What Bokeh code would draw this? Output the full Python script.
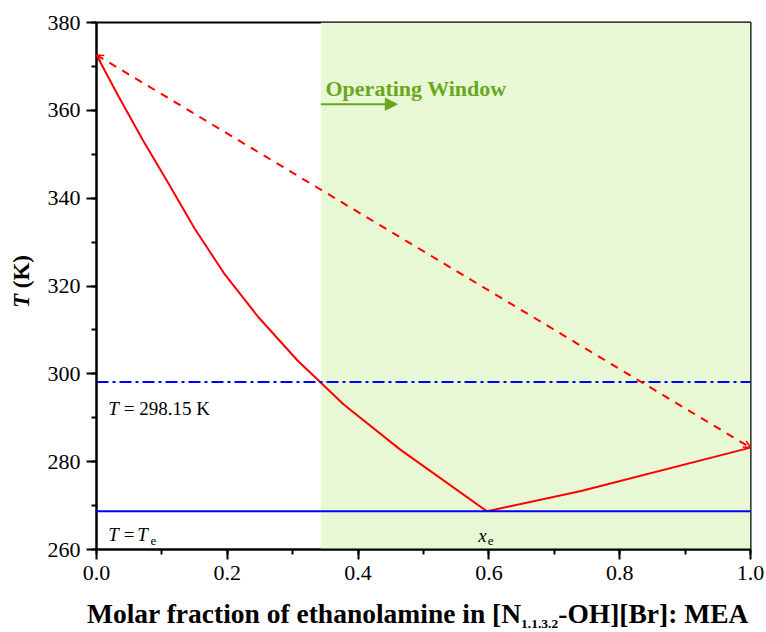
from bokeh.plotting import figure
from bokeh.layouts import row, column
from bokeh.models import (Range1d, SingleIntervalTicker, Label, Arrow, OpenHead, Div,
                          NormalHead, BoxAnnotation, Span, CustomJSTickFormatter)
from bokeh.embed import file_html
from bokeh.resources import INLINE

# ---- data ----
x_liq_left = [0.0, 0.034, 0.071, 0.111, 0.150, 0.195, 0.247, 0.307, 0.378, 0.464, 0.597]
T_liq_left = [372.6, 363.1, 353.2, 343.1, 333.1, 322.9, 313.0, 303.1, 293.0, 282.8, 268.7]
x_liq_right = [0.597, 0.741, 1.0]
T_liq_right = [268.7, 273.3, 283.2]
ideal_x = [0.0, 1.0]
ideal_T = [372.6, 283.2]
T_room = 298.15
T_eut = 268.7
x_window = 0.343

SERIF = "Liberation Serif"
GREEN = "#6aa71d"

p = figure(width=726, height=596, output_backend="svg", toolbar_location=None,
           x_range=Range1d(0, 1), y_range=Range1d(260, 380),
           min_border_left=56, min_border_right=16, min_border_top=22, min_border_bottom=47)
p.background_fill_color = "white"
p.border_fill_color = "white"
p.grid.visible = False
p.outline_line_color = "black"
p.outline_line_width = 2

# operating window shading
p.add_layout(BoxAnnotation(left=x_window, right=1.0, fill_color="#e8f8d4", fill_alpha=1.0,
                           line_alpha=0, level="underlay"))

# axes
p.xaxis.ticker = SingleIntervalTicker(interval=0.2, num_minor_ticks=2)
p.yaxis.ticker = SingleIntervalTicker(interval=20, num_minor_ticks=2)
p.xaxis.formatter = CustomJSTickFormatter(code="return tick.toFixed(1);")
for ax in (p.xaxis[0], p.yaxis[0]):
    ax.axis_line_width = 2
    ax.axis_line_color = "black"
    ax.major_tick_line_width = 2
    ax.minor_tick_line_width = 2
    ax.major_tick_out = 10
    ax.major_tick_in = 0
    ax.minor_tick_out = 5
    ax.minor_tick_in = 0
    ax.major_label_text_font = SERIF
    ax.major_label_text_font_size = "22px"
    ax.major_label_text_color = "black"
p.xaxis.major_label_standoff = 6
p.yaxis.major_label_standoff = 6

# horizontal reference lines
p.add_layout(Span(location=T_room, dimension="width", line_color="#0000ff", line_width=2,
                  line_dash="12 4 3 4"))
p.add_layout(Span(location=T_eut, dimension="width", line_color="#0000ff", line_width=2))

# liquidus curves
p.line(x_liq_left, T_liq_left, line_color="#ff0000", line_width=2)
p.line(x_liq_right, T_liq_right, line_color="#ff0000", line_width=2)

# ideal (dashed) line with small arrow heads
p.add_layout(Arrow(x_start=ideal_x[0], y_start=ideal_T[0], x_end=ideal_x[1], y_end=ideal_T[1],
                   line_color="#ff0000", line_width=2, line_dash="8 7",
                   start=OpenHead(size=7, line_color="#ff0000", line_width=1.5),
                   end=OpenHead(size=7, line_color="#ff0000", line_width=1.5)))

# operating window arrow and text
p.add_layout(Arrow(x_start=x_window, y_start=361.4, x_end=0.46, y_end=361.4,
                   line_color=GREEN, line_width=2,
                   end=NormalHead(size=12, fill_color=GREEN, line_color=GREEN)))

def lab(text, sx, sy, size, style="normal", color="black", align="left"):
    p.add_layout(Label(x=sx, y=sy, x_units="screen", y_units="screen", text=text,
                       text_font=SERIF, text_font_size=size, text_font_style=style,
                       text_color=color, text_align=align, text_baseline="alphabetic"))

lab("Operating Window", 229, 460.7, "22px", "bold", GREEN)

# in-plot annotations
lab("T", 11.7, 141.3, "19px", "italic")
lab("= 298.15 K", 27.3, 141.3, "19px")
lab("T", 11.7, 14.7, "19px", "italic")
lab("=", 27.3, 14.7, "19px")
lab("T", 40.7, 14.7, "19px", "italic")
lab("e", 54, 9, "13px")
lab("x", 381.7, 14.5, "19px", "italic")
lab("e", 391.3, 9, "13px")

# axis titles as rich text
xlabel_html = (
    '<div style="padding:4px 0 0 47px; white-space:nowrap; font-family:\'Liberation Serif\';'
    ' font-weight:bold; font-size:27.5px; line-height:27.5px; color:black;">'
    'Molar fraction of ethanolamine in [N'
    '<span style="font-size:13.5px; position:relative; top:5px;">1.1.3.2</span>'
    '-OH][Br]: MEA</div>'
)
ylabel_html = (
    '<div style="width:40px; height:564px; display:flex; align-items:center; justify-content:flex-start;'
    ' padding-left:10px; box-sizing:border-box;">'
    '<span style="writing-mode:vertical-rl; transform:rotate(180deg); white-space:nowrap;'
    ' font-family:\'Liberation Serif\'; font-weight:bold; font-size:23px; line-height:23px; color:black;">'
    '<i>T</i> (K)</span></div>'
)
xdiv = Div(text=xlabel_html, width=726, height=36, margin=0)
ydiv = Div(text=ylabel_html, width=40, height=632, margin=0)

layout = row(ydiv, column(p, xdiv, spacing=0), spacing=0)
open("out.html", "w").write(file_html(layout, INLINE))
